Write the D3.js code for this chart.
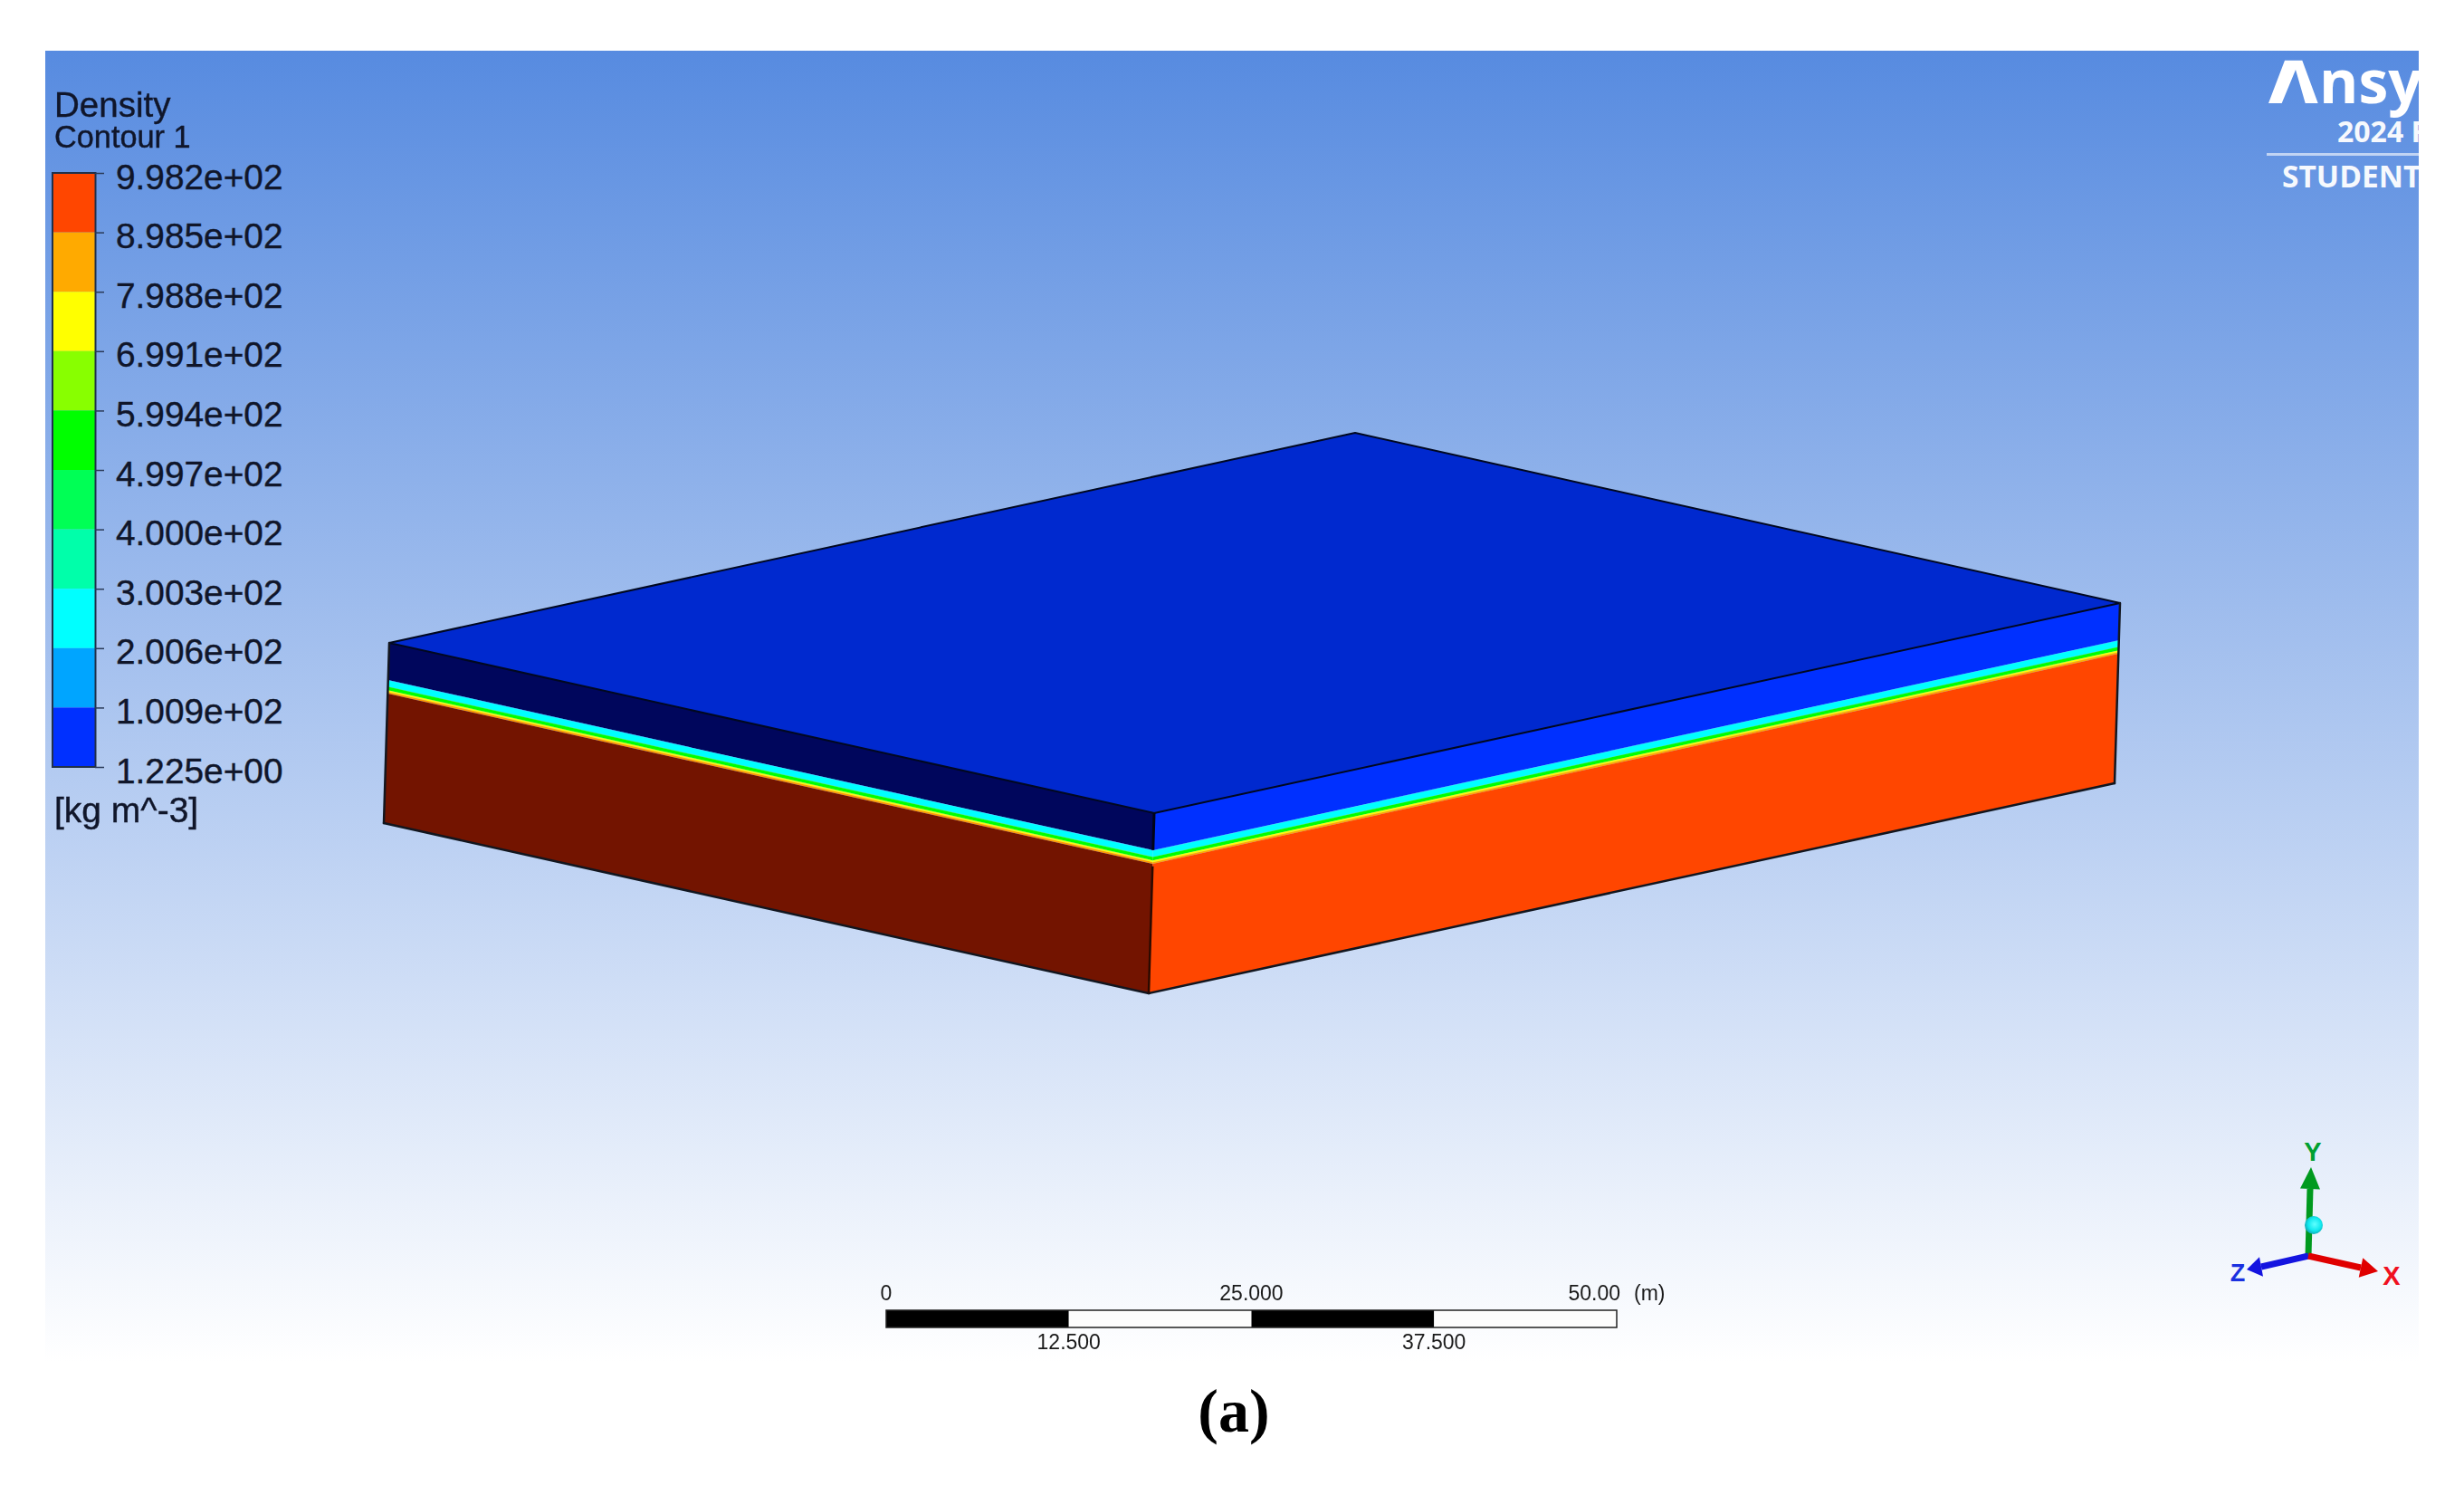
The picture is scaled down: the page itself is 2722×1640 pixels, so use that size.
<!DOCTYPE html>
<html>
<head>
<meta charset="utf-8">
<script src="https://cdn.jsdelivr.net/npm/d3@7"></script>
<style>
  html, body { margin: 0; padding: 0; background: #fff; }
  svg { display: block; filter: blur(0.6px); }
  text { font-family: "Liberation Sans", Arial, sans-serif; }
</style>
</head>
<body>
<svg id="chart" width="2722" height="1640"></svg>
<script>
// Legend
const legendValues = [998.2, 898.5, 798.8, 699.1, 599.4, 499.7, 400.0, 300.3, 200.6, 100.9, 1.225];
const legendLabels = ['9.982e+02', '8.985e+02', '7.988e+02', '6.991e+02', '5.994e+02', '4.997e+02',
  '4.000e+02', '3.003e+02', '2.006e+02', '1.009e+02', '1.225e+00'];
const bandColors = ['#ff4600', '#ffaa00', '#ffff00', '#88ff00', '#00ff00', '#00ff55', '#00ffaa', '#00ffff', '#00a5ff', '#0030ff'];

// Box, metres
const boxLength = 100;
const boxWidth = 100;
const boxHeight = 10;
// depth below the top face where each density band ends, air first
const bandDepths = [2.06, 2.08, 2.42, 2.43, 2.44, 2.62, 2.64, 2.72, 2.82, 10];
const rightFaceColors = ['#0030ff', '#00a5ff', '#00ffff', '#00ffaa', '#00ff55', '#00ff00', '#88ff00', '#ffff00', '#ffaa00', '#ff4600'];
const leftFaceColors = ['#00065c', '#00a5ff', '#00ffff', '#00ffaa', '#00ff55', '#00ff00', '#88ff00', '#ffff00', '#ff9a00', '#731400'];
const topFaceColor = '#0029cf';

// Scale bar
const barStops = [0, 12.5, 25, 37.5, 50];
const barLabelsTop = ['0', '25.000', '50.00'];
const barLabelTopValues = [0, 25, 50];
const barLabelTopAnchors = ['middle', 'middle', 'end'];
const barLabelsBottom = ['12.500', '37.500'];
const barLabelBottomValues = [12.5, 37.5];

const svg = d3.select('#chart');
const textColor = '#10162a';

// Background
const grad = svg.append('defs').append('linearGradient')
  .attr('id', 'bg').attr('x1', 0).attr('y1', 0).attr('x2', 0).attr('y2', 1);
grad.append('stop').attr('offset', 0).attr('stop-color', '#578be0');
grad.append('stop').attr('offset', 1).attr('stop-color', '#ffffff');
svg.append('rect').attr('x', 50).attr('y', 56).attr('width', 2622).attr('height', 1449).attr('fill', 'url(#bg)');

// Box projection (the view is parallel, so plain linear scales do it)
const xToSx = d3.scaleLinear().domain([0, boxLength]).range([0, 1067]);
const xToSy = d3.scaleLinear().domain([0, boxLength]).range([0, -232]);
const zToSx = d3.scaleLinear().domain([0, boxWidth]).range([0, -845]);
const zToSy = d3.scaleLinear().domain([0, boxWidth]).range([0, -188]);
const dToSx = d3.scaleLinear().domain([0, boxHeight]).range([0, -6]);
const dToSy = d3.scaleLinear().domain([0, boxHeight]).range([0, 199]);
const project = (x, z, d) => [
  1275 + xToSx(x) + zToSx(z) + dToSx(d),
  898 + xToSy(x) + zToSy(z) + dToSy(d)
];
const poly = d3.line();
const closed = pts => poly(pts) + 'Z';

const box = svg.append('g');
const depthStarts = [0, ...bandDepths.slice(0, -1)];

// Left face
box.selectAll('path.left').data(bandDepths).join('path')
  .attr('class', 'left')
  .attr('d', (d, i) => closed([project(0, 0, depthStarts[i]), project(0, boxWidth, depthStarts[i]), project(0, boxWidth, d), project(0, 0, d)]))
  .attr('fill', (d, i) => leftFaceColors[i]);

// Right face
box.selectAll('path.right').data(bandDepths).join('path')
  .attr('class', 'right')
  .attr('d', (d, i) => closed([project(0, 0, depthStarts[i]), project(boxLength, 0, depthStarts[i]), project(boxLength, 0, d), project(0, 0, d)]))
  .attr('fill', (d, i) => rightFaceColors[i]);

// Top face
box.append('path')
  .attr('d', closed([project(0, 0, 0), project(boxLength, 0, 0), project(boxLength, boxWidth, 0), project(0, boxWidth, 0)]))
  .attr('fill', topFaceColor)
  .attr('stroke', '#000820').attr('stroke-width', 2).attr('stroke-linejoin', 'round');

// Box edges
const edges = [
  [project(0, boxWidth, 0), project(0, boxWidth, boxHeight)],
  [project(boxLength, 0, 0), project(boxLength, 0, boxHeight)],
  [project(0, boxWidth, boxHeight), project(0, 0, boxHeight)],
  [project(0, 0, boxHeight), project(boxLength, 0, boxHeight)]
];
box.selectAll('path.edge').data(edges).join('path')
  .attr('class', 'edge')
  .attr('d', d => poly(d))
  .attr('fill', 'none')
  .attr('stroke', '#12161f').attr('stroke-width', 2.5).attr('stroke-linecap', 'round');
box.append('path')
  .attr('d', poly([project(0, 0, 0), project(0, 0, 2.05)]))
  .attr('stroke', '#000418').attr('stroke-width', 3);
box.append('path')
  .attr('d', poly([project(0, 0, 2.95), project(0, 0, boxHeight)]))
  .attr('stroke', '#2a0a00').attr('stroke-width', 2.5);

// Legend bar
const legendY = d3.scaleLinear().domain([1.225, 998.2]).range([847, 191]);
const legend = svg.append('g');
legend.selectAll('rect').data(bandColors).join('rect')
  .attr('x', 59)
  .attr('width', 46)
  .attr('y', (d, i) => legendY(legendValues[i]))
  .attr('height', (d, i) => legendY(legendValues[i + 1]) - legendY(legendValues[i]))
  .attr('fill', d => d);
legend.append('rect')
  .attr('x', 58).attr('y', 191).attr('width', 47.5).attr('height', 656)
  .attr('fill', 'none').attr('stroke', '#20304a').attr('stroke-width', 2);

const legendAxis = d3.axisRight(legendY)
  .tickValues(legendValues)
  .tickSize(10)
  .tickPadding(13)
  .tickFormat((d, i) => legendLabels[i]);
const axisG = svg.append('g').attr('transform', 'translate(105,0)').call(legendAxis);
axisG.select('.domain').remove();
axisG.selectAll('line').attr('stroke', '#2a3a58').attr('stroke-width', 1.5);
axisG.selectAll('text')
  .attr('font-family', '"Liberation Sans", Arial, sans-serif')
  .attr('font-size', 38.8)
  .attr('fill', textColor)
  .attr('stroke', textColor).attr('stroke-width', 0.4)
  .attr('dy', '0.44em');

const legendTitles = svg.append('g').attr('fill', textColor).attr('stroke', textColor).attr('stroke-width', 0.4);
legendTitles.append('text').attr('x', 60).attr('y', 129).attr('font-size', 38.5).text('Density');
legendTitles.append('text').attr('x', 60).attr('y', 163).attr('font-size', 34.3).text('Contour 1');
legendTitles.append('text').attr('x', 60).attr('y', 908).attr('font-size', 39).text('[kg m^-3]');

// Scale bar
const barX = d3.scaleLinear().domain([0, 50]).range([979, 1786]);
const bar = svg.append('g');
bar.selectAll('rect').data(barStops.slice(0, -1)).join('rect')
  .attr('x', d => barX(d))
  .attr('y', 1447)
  .attr('width', (d, i) => barX(barStops[i + 1]) - barX(d))
  .attr('height', 19)
  .attr('fill', (d, i) => i % 2 ? '#fdfdfd' : '#000');
bar.append('rect')
  .attr('x', barX(0)).attr('y', 1447).attr('width', barX(50) - barX(0)).attr('height', 19)
  .attr('fill', 'none').attr('stroke', '#222').attr('stroke-width', 1.5);
bar.selectAll('text.top').data(barLabelsTop).join('text')
  .attr('class', 'top')
  .attr('x', (d, i) => barX(barLabelTopValues[i]) + (barLabelTopAnchors[i] === 'end' ? 4 : 0))
  .attr('y', 1436)
  .attr('text-anchor', (d, i) => barLabelTopAnchors[i])
  .attr('font-size', 23)
  .attr('fill', '#1a1a1a')
  .text(d => d);
bar.selectAll('text.bottom').data(barLabelsBottom).join('text')
  .attr('class', 'bottom')
  .attr('x', (d, i) => barX(barLabelBottomValues[i]))
  .attr('y', 1490)
  .attr('text-anchor', 'middle')
  .attr('font-size', 23)
  .attr('fill', '#1a1a1a')
  .text(d => d);
svg.append('text').attr('x', 1805).attr('y', 1436).attr('font-size', 23).attr('fill', '#1a1a1a').text('(m)');

// Panel caption
svg.append('text')
  .attr('x', 1363).attr('y', 1581)
  .attr('text-anchor', 'middle')
  .style('font-family', '"Liberation Serif", "Times New Roman", serif')
  .style('font-weight', 'bold')
  .attr('font-size', 68)
  .attr('fill', '#000')
  .text('(a)');

// Ansys logo, cut off by the panel edge
svg.select('defs').append('clipPath').attr('id', 'logoClip')
  .append('rect').attr('x', 2480).attr('y', 56).attr('width', 192).attr('height', 170);
const logo = svg.append('g').attr('clip-path', 'url(#logoClip)').attr('fill', '#fff');
logo.append('path').attr('d', 'M2506,114 L2524,66.7 L2543.3,66.7 L2560.7,114 L2546.7,114 L2536,77 L2520.7,114 Z');
logo.append('text').attr('x', 2562).attr('y', 114)
  .style('font-family', '"Open Sans", sans-serif').style('font-weight', 700).attr('font-size', 66).text('nsy');
logo.append('text').attr('x', 2582).attr('y', 157)
  .style('font-family', '"Open Sans", sans-serif').style('font-weight', 700).attr('font-size', 32).attr('opacity', 0.95).text('2024 R');
logo.append('rect').attr('x', 2504).attr('y', 169).attr('width', 170).attr('height', 3).attr('opacity', 0.6);
logo.append('text').attr('x', 2521).attr('y', 207)
  .style('font-family', '"Open Sans", sans-serif').style('font-weight', 700).attr('font-size', 33.5).attr('opacity', 0.95).text('STUDENT');

// Axis triad
const triad = svg.append('g');
const drawArrow = (from, neck, tip, color, half) => {
  const len = Math.hypot(tip[0] - neck[0], tip[1] - neck[1]);
  const nx = -(tip[1] - neck[1]) / len * half;
  const ny = (tip[0] - neck[0]) / len * half;
  triad.append('path').attr('d', poly([from, neck])).attr('stroke', color).attr('stroke-width', 7).attr('fill', 'none');
  triad.append('path')
    .attr('d', closed([[neck[0] + nx, neck[1] + ny], tip, [neck[0] - nx, neck[1] - ny]]))
    .attr('fill', color);
};
drawArrow([2550, 1387], [2552, 1313], [2553, 1289], '#009a1e', 11);
drawArrow([2550, 1387], [2498, 1399], [2482, 1402], '#1414e0', 11);
drawArrow([2550, 1387], [2608, 1400], [2627, 1404], '#e00000', 11);

const sphere = svg.select('defs').append('radialGradient').attr('id', 'sphere')
  .attr('cx', 0.55).attr('cy', 0.45).attr('r', 0.6);
sphere.append('stop').attr('offset', 0).attr('stop-color', '#60ffff');
sphere.append('stop').attr('offset', 0.6).attr('stop-color', '#10e8ee');
sphere.append('stop').attr('offset', 1).attr('stop-color', '#109ca8');
triad.append('circle').attr('cx', 2556).attr('cy', 1353).attr('r', 10).attr('fill', 'url(#sphere)');

triad.append('text').attr('x', 2555).attr('y', 1282).attr('text-anchor', 'middle').attr('font-size', 29).attr('font-weight', 'bold').attr('fill', '#00a030').text('Y');
triad.append('text').attr('x', 2472).attr('y', 1415).attr('text-anchor', 'middle').attr('font-size', 27).attr('font-weight', 'bold').attr('fill', '#1a30e0').text('Z');
triad.append('text').attr('x', 2642).attr('y', 1419).attr('text-anchor', 'middle').attr('font-size', 29).attr('font-weight', 'bold').attr('fill', '#f01020').text('X');
</script>
</body>
</html>
